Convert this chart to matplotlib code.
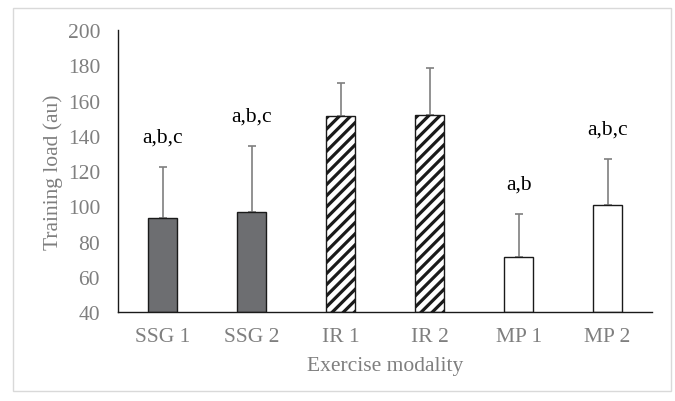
import matplotlib
matplotlib.use("Agg")
import matplotlib.pyplot as plt
from matplotlib.patches import Rectangle

# Dados
categories = ["SSG 1", "SSG 2", "IR 1", "IR 2", "MP 1", "MP 2"]
means      = [93.3, 96.8, 151.0, 151.8, 71.0, 101.0]
sd_upper   = [29.0, 37.5, 19.0, 26.5, 24.8, 25.8]
letters    = ["a,b,c", "a,b,c", "", "", "a,b", "a,b,c"]

GREY = "#7f7f7f"
FS = 15.5
plt.rcParams["font.family"] = ["Liberation Serif", "DejaVu Serif"]
plt.rcParams["hatch.linewidth"] = 2.3

fig = plt.figure(figsize=(6.75, 4.02), dpi=100)
fig.patches.append(Rectangle((0.019, 0.025), 0.975, 0.953, transform=fig.transFigure,
                             fill=False, edgecolor="#d9d9d9", linewidth=1))
ax = fig.add_axes([0.175, 0.221, 0.791, 0.702])

x = list(range(len(categories)))
faces   = ["#6d6e71", "#6d6e71", "white", "white", "white", "white"]
hatches = [None, None, "///", "///", None, None]
base = 40
for xi, m, fc, h in zip(x, means, faces, hatches):
    ax.bar(xi, m - base, bottom=base, width=0.33, color=fc, hatch=h,
           edgecolor="#1a1a1a", linewidth=1.0, zorder=2)

# Barras de erro só para cima
ax.errorbar(x, means, yerr=[[0] * len(means), sd_upper], fmt="none",
            ecolor=GREY, elinewidth=1.2, capsize=3, capthick=1.2, zorder=1)

for xi, m, s, t in zip(x, means, sd_upper, letters):
    if t:
        ax.text(xi, m + s + 17, t, ha="center", va="center", fontsize=FS, color="black")

ax.set_xlim(-0.5, len(categories) - 0.5)
ax.set_ylim(40, 200)
ax.set_yticks(range(40, 201, 20))
ax.set_xticks(x)
ax.set_xticklabels(categories)
ax.tick_params(axis="both", length=0, labelsize=FS, labelcolor=GREY)
ax.tick_params(axis="x", pad=11)
ax.tick_params(axis="y", pad=13)

for side in ["top", "right"]:
    ax.spines[side].set_visible(False)
for side in ["left", "bottom"]:
    ax.spines[side].set_color("#1a1a1a")
    ax.spines[side].set_linewidth(1.0)

ax.set_xlabel("Exercise modality", fontsize=FS, color=GREY, labelpad=7)
ax.set_ylabel("Training load (au)", fontsize=FS, color=GREY, labelpad=3)

fig.savefig("out.png", dpi=100)
